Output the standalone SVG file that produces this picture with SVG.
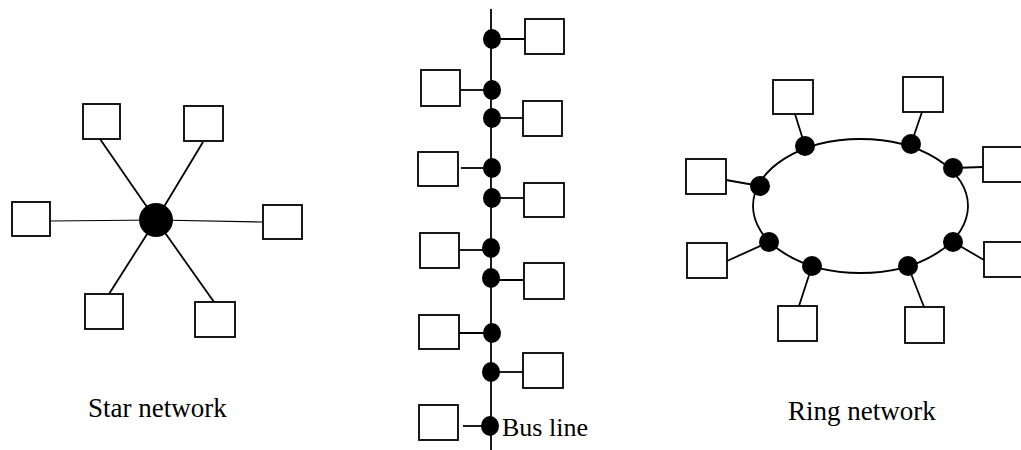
<svg xmlns="http://www.w3.org/2000/svg" width="1021" height="450" viewBox="0 0 1021 450">
  <style>
    .box { fill: #fff; stroke: #000; stroke-width: 1.8; }
    .wire { stroke: #000; stroke-width: 1.8; fill: none; }
    .thin { stroke: #000; stroke-width: 1.2; fill: none; }
    .dot { fill: #000; }
    .label { font-family: "Liberation Serif", "Times New Roman", serif; fill: #000; }
  </style>
  <rect width="1021" height="450" fill="#fff"/>

  <!-- Star network -->
  <g id="star-connectors">
    <line class="wire" x1="100" y1="139" x2="156" y2="220"/>
    <line class="wire" x1="203" y1="142" x2="156" y2="220"/>
    <line class="thin" x1="50" y1="221" x2="156" y2="220"/>
    <line class="thin" x1="156" y1="220" x2="263" y2="222"/>
    <line class="wire" x1="156" y1="220" x2="109" y2="294"/>
    <line class="wire" x1="156" y1="220" x2="214" y2="302"/>
  </g>
  <g id="star-hub"><circle class="dot" cx="156" cy="220" r="17"/></g>
  <g id="star-node-1"><rect class="box" x="83" y="104" width="37" height="35"/></g>
  <g id="star-node-2"><rect class="box" x="184" y="106" width="39" height="35"/></g>
  <g id="star-node-3"><rect class="box" x="12" y="202" width="38" height="34"/></g>
  <g id="star-node-4"><rect class="box" x="263" y="205" width="39" height="34"/></g>
  <g id="star-node-5"><rect class="box" x="85" y="294" width="38" height="35"/></g>
  <g id="star-node-6"><rect class="box" x="195" y="302" width="40" height="35"/></g>
  <text class="label" x="88" y="417" font-size="27">Star network</text>

  <!-- Bus network -->
  <g id="bus-connectors">
    <line class="wire" x1="491" y1="9" x2="491" y2="450"/>
    <line class="wire" x1="492" y1="39" x2="525" y2="39"/>
    <line class="wire" x1="460" y1="90" x2="492" y2="90"/>
    <line class="wire" x1="492" y1="118" x2="523" y2="118"/>
    <line class="wire" x1="461" y1="168" x2="492" y2="168"/>
    <line class="wire" x1="492" y1="198" x2="524" y2="198"/>
    <line class="wire" x1="459" y1="250" x2="491" y2="250"/>
    <line class="wire" x1="491" y1="280" x2="524" y2="280"/>
    <line class="wire" x1="459" y1="333" x2="492" y2="333"/>
    <line class="wire" x1="491" y1="372" x2="523" y2="372"/>
    <line class="wire" x1="463" y1="426" x2="490" y2="426"/>
  </g>
  <g id="bus-taps">
    <ellipse class="dot" cx="492" cy="39" rx="9" ry="10"/>
    <ellipse class="dot" cx="492" cy="90" rx="9" ry="10"/>
    <ellipse class="dot" cx="492" cy="118" rx="9" ry="10"/>
    <ellipse class="dot" cx="492" cy="168" rx="9" ry="10"/>
    <ellipse class="dot" cx="492" cy="198" rx="9" ry="10"/>
    <ellipse class="dot" cx="491" cy="248" rx="9" ry="10"/>
    <ellipse class="dot" cx="491" cy="278" rx="9" ry="10"/>
    <ellipse class="dot" cx="492" cy="333" rx="9" ry="10"/>
    <ellipse class="dot" cx="491" cy="372" rx="9" ry="10"/>
    <ellipse class="dot" cx="490" cy="426" rx="9" ry="10"/>
  </g>
  <g id="bus-node-r1"><rect class="box" x="525" y="19" width="39" height="35"/></g>
  <g id="bus-node-l1"><rect class="box" x="421" y="70" width="39" height="36"/></g>
  <g id="bus-node-r2"><rect class="box" x="523" y="101" width="39" height="35"/></g>
  <g id="bus-node-l2"><rect class="box" x="418" y="152" width="40" height="34"/></g>
  <g id="bus-node-r3"><rect class="box" x="524" y="183" width="40" height="34"/></g>
  <g id="bus-node-l3"><rect class="box" x="420" y="233" width="39" height="35"/></g>
  <g id="bus-node-r4"><rect class="box" x="524" y="263" width="40" height="36"/></g>
  <g id="bus-node-l4"><rect class="box" x="419" y="315" width="40" height="34"/></g>
  <g id="bus-node-r5"><rect class="box" x="523" y="353" width="40" height="35"/></g>
  <g id="bus-node-l5"><rect class="box" x="419" y="405" width="39" height="35"/></g>
  <text class="label" x="502" y="436" font-size="26">Bus line</text>

  <!-- Ring network -->
  <g id="ring-connectors">
    <ellipse class="wire" cx="860.5" cy="206" rx="107.5" ry="67"/>
    <line class="wire" x1="795" y1="114" x2="805" y2="146"/>
    <line class="wire" x1="922" y1="112" x2="911" y2="144"/>
    <line class="wire" x1="953" y1="168" x2="983" y2="167"/>
    <line class="wire" x1="726" y1="180" x2="760" y2="186"/>
    <line class="wire" x1="727" y1="261" x2="769" y2="242"/>
    <line class="wire" x1="812" y1="266" x2="799" y2="306"/>
    <line class="wire" x1="908" y1="266" x2="924" y2="307"/>
    <line class="wire" x1="953" y1="242" x2="984" y2="260"/>
  </g>
  <g id="ring-taps">
    <circle class="dot" cx="805" cy="146" r="10"/>
    <circle class="dot" cx="911" cy="144" r="10"/>
    <circle class="dot" cx="953" cy="168" r="10"/>
    <circle class="dot" cx="760" cy="186" r="10"/>
    <circle class="dot" cx="769" cy="242" r="10"/>
    <circle class="dot" cx="812" cy="266" r="10"/>
    <circle class="dot" cx="908" cy="266" r="10"/>
    <circle class="dot" cx="953" cy="242" r="10"/>
  </g>
  <g id="ring-node-tl"><rect class="box" x="773" y="80" width="40" height="34"/></g>
  <g id="ring-node-tr"><rect class="box" x="903" y="77" width="40" height="35"/></g>
  <g id="ring-node-r1"><rect class="box" x="983" y="147" width="40" height="35"/></g>
  <g id="ring-node-l1"><rect class="box" x="686" y="159" width="40" height="35"/></g>
  <g id="ring-node-l2"><rect class="box" x="687" y="243" width="40" height="35"/></g>
  <g id="ring-node-r2"><rect class="box" x="984" y="242" width="40" height="35"/></g>
  <g id="ring-node-bl"><rect class="box" x="778" y="306" width="39" height="35"/></g>
  <g id="ring-node-br"><rect class="box" x="905" y="307" width="39" height="36"/></g>
  <text class="label" x="788" y="420" font-size="27">Ring network</text>
</svg>
